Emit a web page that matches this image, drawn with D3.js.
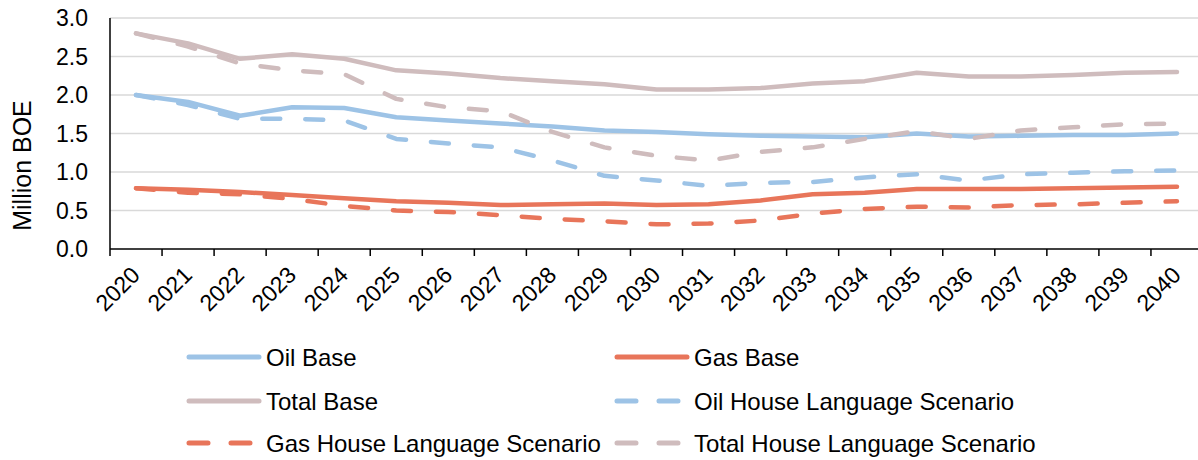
<!DOCTYPE html>
<html>
<head>
<meta charset="utf-8">
<script src="https://cdn.jsdelivr.net/npm/d3@7"></script>
<style>
  body { margin: 0; background: #fff; }
  svg { display: block; font-family: "Liberation Sans", Arial, sans-serif; }
</style>
</head>
<body>
<svg id="chart" width="1198" height="460"></svg>
<script>
// years on the x axis
const years = d3.range(2020, 2041).map(String);

// values, million BOE
const oilBase = [2.00, 1.91, 1.73, 1.84, 1.83, 1.71, 1.67, 1.63, 1.59, 1.54, 1.52, 1.49, 1.47, 1.46, 1.45, 1.50, 1.46, 1.47, 1.48, 1.48, 1.50];
const gasBase = [0.79, 0.77, 0.74, 0.70, 0.66, 0.62, 0.60, 0.57, 0.58, 0.59, 0.57, 0.58, 0.63, 0.71, 0.73, 0.78, 0.78, 0.78, 0.79, 0.80, 0.81];
const totalBase = [2.80, 2.67, 2.47, 2.53, 2.47, 2.32, 2.28, 2.22, 2.18, 2.14, 2.07, 2.07, 2.09, 2.15, 2.18, 2.29, 2.24, 2.24, 2.26, 2.29, 2.30];
const oilHouse = [2.00, 1.87, 1.69, 1.69, 1.67, 1.43, 1.37, 1.32, 1.15, 0.95, 0.89, 0.82, 0.86, 0.87, 0.93, 0.97, 0.89, 0.97, 0.99, 1.01, 1.02];
const gasHouse = [0.79, 0.73, 0.71, 0.65, 0.56, 0.50, 0.48, 0.44, 0.39, 0.36, 0.32, 0.33, 0.37, 0.46, 0.52, 0.55, 0.54, 0.57, 0.58, 0.60, 0.62];
const totalHouse = [2.80, 2.63, 2.41, 2.32, 2.27, 1.95, 1.84, 1.79, 1.52, 1.32, 1.21, 1.15, 1.26, 1.32, 1.43, 1.53, 1.43, 1.54, 1.58, 1.62, 1.63];

const yTicks = [0, 0.5, 1, 1.5, 2, 2.5, 3];

const series = [
  { name: "Oil Base", values: oilBase, color: "#9dc3e6", dash: false },
  { name: "Gas Base", values: gasBase, color: "#e8755a", dash: false },
  { name: "Total Base", values: totalBase, color: "#cfbcbd", dash: false },
  { name: "Oil House Language Scenario", values: oilHouse, color: "#9dc3e6", dash: true },
  { name: "Gas House Language Scenario", values: gasHouse, color: "#e8755a", dash: true },
  { name: "Total House Language Scenario", values: totalHouse, color: "#cfbcbd", dash: true }
];

const svg = d3.select("#chart");
const plotLeft = 110, plotTop = 18, plotBottom = 249, plotRight = 1203;

const x = d3.scaleBand().domain(years).range([plotLeft, plotRight]);
const y = d3.scaleLinear().domain([0, 3]).range([plotBottom, plotTop]);

// gridlines
svg.append("g")
  .selectAll("line")
  .data(yTicks.filter(d => d > 0))
  .enter()
  .append("line")
  .attr("x1", plotLeft)
  .attr("x2", 1198)
  .attr("y1", d => y(d))
  .attr("y2", d => y(d))
  .attr("stroke", "#d9d9d9")
  .attr("stroke-width", 1.5);

// y axis labels
svg.append("g")
  .selectAll("text")
  .data(yTicks)
  .enter()
  .append("text")
  .attr("x", plotLeft - 22)
  .attr("y", d => y(d))
  .attr("dy", "0.36em")
  .attr("text-anchor", "end")
  .attr("font-size", 23)
  .attr("fill", "#000")
  .text(d => d.toFixed(1));

svg.append("line")
  .attr("x1", plotLeft).attr("x2", plotLeft)
  .attr("y1", plotTop).attr("y2", plotBottom)
  .attr("stroke", "#000").attr("stroke-width", 1.5);

// x axis line with ticks at category boundaries
svg.append("line")
  .attr("x1", plotLeft).attr("x2", 1198)
  .attr("y1", plotBottom).attr("y2", plotBottom)
  .attr("stroke", "#000").attr("stroke-width", 1.5);

svg.append("g")
  .selectAll("line")
  .data(years)
  .enter()
  .append("line")
  .attr("x1", d => x(d))
  .attr("x2", d => x(d))
  .attr("y1", plotBottom)
  .attr("y2", plotBottom + 7)
  .attr("stroke", "#000")
  .attr("stroke-width", 1.5);

svg.append("g")
  .selectAll("text")
  .data(years)
  .enter()
  .append("text")
  .attr("transform", d => `translate(${x(d) + x.bandwidth() / 2 - 6},${plotBottom + 16}) rotate(-45)`)
  .attr("text-anchor", "end")
  .attr("dy", "0.7em")
  .attr("font-size", 23)
  .attr("fill", "#000")
  .text(d => d);

// axis title
svg.append("text")
  .attr("transform", `translate(31,${(plotTop + plotBottom) / 2 + 32}) rotate(-90)`)
  .attr("text-anchor", "middle")
  .attr("font-size", 25)
  .attr("fill", "#000")
  .text("Million BOE");

// lines
const line = d3.line()
  .x((d, i) => x(years[i]) + x.bandwidth() / 2)
  .y(d => y(d));

svg.append("g")
  .selectAll("path")
  .data(series)
  .enter()
  .append("path")
  .attr("d", d => line(d.values))
  .attr("fill", "none")
  .attr("stroke", d => d.color)
  .attr("stroke-width", 4.5)
  .attr("stroke-linecap", "round")
  .attr("stroke-linejoin", "round")
  .attr("stroke-dasharray", d => d.dash ? "18,25" : null);

// legend, two columns
const legend = svg.append("g")
  .selectAll("g")
  .data(series)
  .enter()
  .append("g")
  .attr("transform", (d, i) => `translate(${i % 2 === 0 ? 189 : 617},${[357, 401, 443][Math.floor(i / 2)]})`);

legend.append("line")
  .attr("x1", 0).attr("x2", 70)
  .attr("stroke", d => d.color)
  .attr("stroke-width", 5)
  .attr("stroke-linecap", "round")
  .attr("stroke-dasharray", d => d.dash ? "19,23" : null);

legend.append("text")
  .attr("x", 77)
  .attr("dy", "0.36em")
  .attr("font-size", 24)
  .attr("fill", "#000")
  .text(d => d.name);
</script>
</body>
</html>
